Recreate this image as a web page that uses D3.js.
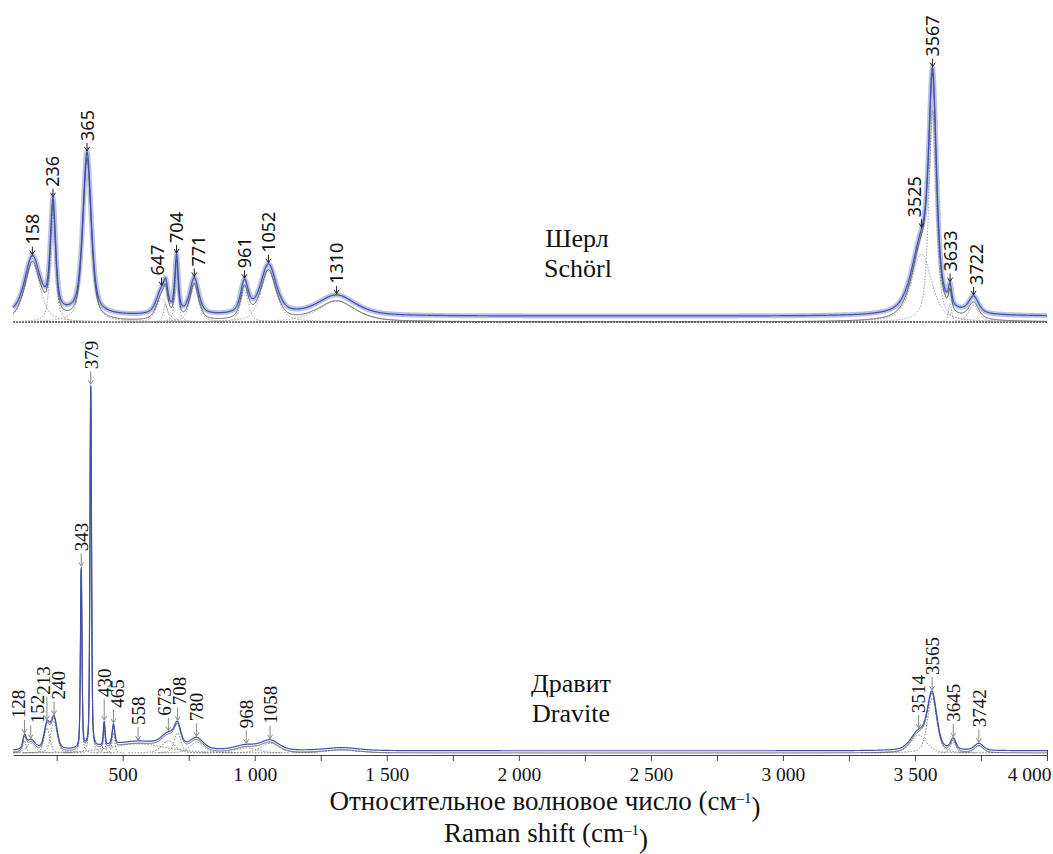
<!DOCTYPE html>
<html>
<head>
<meta charset="utf-8">
<script src="https://cdn.jsdelivr.net/npm/d3@7"></script>
<style>
  body { margin: 0; background: #fff; }
  text { font-family: 'Liberation Serif', 'Times New Roman', serif; fill: #111; }
</style>
</head>
<body>
<div id="canvas"></div>
<script>
/*
 * Band tables
 * position in cm-1, height in % of the strongest band, FWHM in cm-1
 */
const schorlPos    = [158, 236, 365, 647, 663, 704, 771, 961, 1052, 1310, 3525, 3567, 3633, 3722];
const schorlHeight = [22.0, 41.5, 61.5, 9.0, 7.0, 21.5, 13.8, 12.0, 19.0, 7.8, 26.0, 80.0, 7.0, 6.3];
const schorlWidth  = [70, 24, 38, 45, 18, 16, 40, 35, 70, 170, 90, 34, 14, 45];
const schorlLabel  = ['158', '236', '365', '647', '', '704', '771', '961', '1052', '1310', '3525', '3567', '3633', '3722'];
const schorlBackground = 2.2;

const dravitePos    = [128, 152, 213, 240, 343, 379, 430, 465, 558, 673, 708, 780, 968, 1058, 1330, 3514, 3565, 3645, 3742];
const draviteHeight = [3.3, 2.7, 6.8, 8.7, 49.2, 98.9, 6.6, 5.5, 2.5, 3.3, 5.5, 3.0, 1.4, 2.7, 0.8, 4.9, 15.0, 3.0, 1.9];
const draviteWidth  = [15, 40, 25, 28, 7, 7, 8, 12, 250, 60, 30, 60, 100, 80, 150, 70, 42, 25, 40];
const draviteLabel  = ['128', '152', '213', '240', '343', '379', '430', '465', '558', '673', '708', '780', '968', '1058', '', '3514', '3565', '3645', '3742'];
const draviteBackground = 0.6;

const xTicks = [250, 500, 750, 1000, 1250, 1500, 1750, 2000, 2250, 2500, 2750, 3000, 3250, 3500, 3750, 4000];
const xTickLabels = ['', '500', '', '1 000', '', '1 500', '', '2 000', '', '2 500', '', '3 000', '', '3 500', '', '4 000'];

/*
 * Layout
 */
const svgWidth = 1053, svgHeight = 854;
const blue = '#3f51b0';
const labelNudge = { '647': -4, '771': 4, '3525': -7, '3722': 3,
  '128': -6, '152': 6, '213': -4, '240': 4, '465': 4, '673': -4, '708': 2 };
const labelLift = { '213': 10, '430': 8 };

const svg = d3.select('#canvas').append('svg')
  .attr('width', svgWidth)
  .attr('height', svgHeight);

const xScale = d3.scaleLinear()
  .domain([85, 4000])
  .range([13.1, 1047]);

const yTop = d3.scaleLinear()
  .domain([0, 100])
  .range([322, 58]);

const yBottom = d3.scaleLinear()
  .domain([0, 100])
  .range([753, 387]);

// pseudo-Voigt band shape
function band(v, c, h, w, eta) {
  const t = (v - c) / w;
  return h * (eta / (1 + 4 * t * t) + (1 - eta) * Math.exp(-4 * Math.LN2 * t * t));
}

const grid = d3.range(85, 4000.5, 1);

function drawSpectrum(pos, height, width, labels, bg, yScale, opt) {
  const eta = opt.eta;
  const comps = pos.map((c, i) => grid.map((v) => [v, band(v, c, height[i], width[i], eta)]));
  const env = grid.map((v, k) => [v, d3.sum(comps, (cp) => cp[k][1])]);
  const measured = env.map((d) => [d[0], d[1] + bg]);

  const g = svg.append('g');
  const line = d3.line().x((d) => xScale(d[0])).y((d) => yScale(d[1]));

  g.selectAll('path.comp')
    .data(comps)
    .enter()
    .append('path')
    .attr('class', 'comp')
    .attr('d', (d) => line(d.filter((p) => p[1] > 0.05)))
    .attr('fill', 'none')
    .attr('stroke', opt.compColor)
    .attr('stroke-width', 1)
    .attr('stroke-dasharray', '1.5,1.5');

  if (opt.noise) {
    g.append('path')
      .attr('d', line(measured))
      .attr('fill', 'none')
      .attr('stroke', blue)
      .attr('stroke-opacity', 0.35)
      .attr('stroke-width', 5);
  }

  g.append('path')
    .attr('d', line(env))
    .attr('fill', 'none')
    .attr('stroke', '#555')
    .attr('stroke-width', 1);

  g.append('path')
    .attr('d', line(measured))
    .attr('fill', 'none')
    .attr('stroke', blue)
    .attr('stroke-width', 1.2);

  // peak markers
  const marks = pos.map((c, i) => ({
    c, label: labels[i],
    y: yScale(d3.sum(pos, (p, j) => band(c, p, height[j], width[j], eta)) + bg)
  })).filter((d) => d.label !== '');

  const m = g.selectAll('g.mark')
    .data(marks)
    .enter()
    .append('g')
    .attr('class', 'mark');

  m.append('path')
    .attr('d', (d) => {
      const x = xScale(d.c), tip = d.y - 1;
      const top = tip - opt.arrow - (labelLift[d.label] || 0);
      return `M${x},${top}L${x},${tip}M${x - 2.5},${tip - 4}L${x},${tip}L${x + 2.5},${tip - 4}`;
    })
    .attr('fill', 'none')
    .attr('stroke', opt.arrowColor)
    .attr('stroke-width', 1);

  m.append('text')
    .attr('transform', (d) => {
      const x = xScale(d.c) + (labelNudge[d.label] || 0);
      const y = d.y - 1 - opt.arrow - (labelLift[d.label] || 0) - 2;
      return `translate(${x},${y}) rotate(-90)`;
    })
    .attr('dy', '0.36em')
    .style('font-family', opt.font)
    .style('font-size', opt.fontSize)
    .text((d) => d.label);
}

/*
 * Schörl, top
 */
svg.append('line')
  .attr('x1', xScale(85)).attr('x2', xScale(4000))
  .attr('y1', yTop(0)).attr('y2', yTop(0))
  .attr('stroke', '#333')
  .attr('stroke-width', 1.5)
  .attr('stroke-dasharray', '2,1');

drawSpectrum(schorlPos, schorlHeight, schorlWidth, schorlLabel, schorlBackground, yTop,
  { eta: 0.6, noise: true, compColor: '#999', arrow: 8, arrowColor: '#222',
    font: "'Noto Sans', 'Open Sans', sans-serif", fontSize: '18px' });

/*
 * Dravite, bottom
 */
drawSpectrum(dravitePos, draviteHeight, draviteWidth, draviteLabel, draviteBackground, yBottom,
  { eta: 0.4, noise: false, compColor: '#777', arrow: 13, arrowColor: '#888',
    font: "'Liberation Serif', serif", fontSize: '19px' });

/*
 * Axis
 */
const axis = svg.append('g')
  .attr('transform', `translate(0,755)`)
  .call(d3.axisBottom(xScale)
    .tickValues(xTicks)
    .tickFormat((d, i) => xTickLabels[i])
    .tickSize(6)
    .tickSizeOuter(0)
    .tickPadding(6));
axis.select('.domain').attr('stroke', '#444').attr('stroke-width', 1.2);
axis.selectAll('.tick line').attr('stroke', '#444');
axis.selectAll('.tick text')
  .style('font-family', "'Liberation Serif', serif")
  .style('font-size', '19.5px')
  .attr('fill', '#111')
  .filter((d) => d === 4000)
  .attr('text-anchor', 'end')
  .attr('dx', 4);
axis.select('.tick:last-of-type line').attr('y1', -5);

/*
 * Names and axis title
 */
const names = [
  ['Шерл', 577, 247], ['Schörl', 578, 277],
  ['Дравит', 571, 692], ['Dravite', 571, 722]
];
svg.selectAll('text.name')
  .data(names)
  .enter()
  .append('text')
  .attr('class', 'name')
  .attr('x', (d) => d[1])
  .attr('y', (d) => d[2])
  .attr('text-anchor', 'middle')
  .style('font-size', '26px')
  .text((d) => d[0]);

const titles = [
  ['Относительное волновое число (см', 545, 810, 27],
  ['Raman shift (cm', 546, 842, 27]
];
titles.forEach((t) => {
  const tx = svg.append('text')
    .attr('x', t[1])
    .attr('y', t[2])
    .attr('text-anchor', 'middle')
    .style('font-size', t[3] + 'px');
  tx.append('tspan').text(t[0]);
  tx.append('tspan').attr('dy', '-0.5em').style('font-size', '15px').text('\u20131');
  tx.append('tspan').attr('dy', '0.5em').text(')');
});
</script>
</body>
</html>
